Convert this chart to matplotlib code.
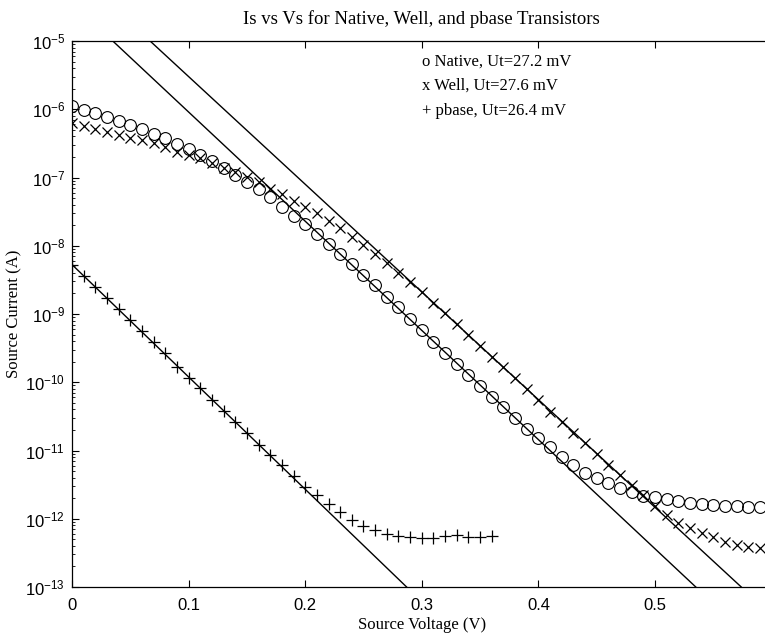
import numpy as np
import matplotlib
matplotlib.use('Agg')
import matplotlib.pyplot as plt
from matplotlib.ticker import LogLocator, NullFormatter, FixedLocator

# measured source voltage (V)
vs_full = np.round(np.arange(0, 60) * 0.01, 2)
vs_pbase = np.round(np.arange(0, 37) * 0.01, 2)

# Native transistor, source current (A)
is_native = [
    1.13e-6, 9.75e-7, 8.73e-7, 7.78e-7, 6.79e-7, 5.87e-7, 5.08e-7, 4.38e-7, 3.75e-7, 3.06e-7,
    2.59e-7, 2.14e-7, 1.75e-7, 1.36e-7, 1.09e-7, 8.68e-8, 6.71e-8, 5.13e-8, 3.73e-8, 2.73e-8,
    2.06e-8, 1.49e-8, 1.05e-8, 7.50e-9, 5.35e-9, 3.72e-9, 2.66e-9, 1.79e-9, 1.25e-9, 8.36e-10,
    5.83e-10, 3.93e-10, 2.71e-10, 1.85e-10, 1.28e-10, 8.81e-11, 6.14e-11, 4.30e-11, 2.96e-11, 2.07e-11,
    1.51e-11, 1.14e-11, 7.94e-12, 6.14e-12, 4.73e-12, 3.92e-12, 3.31e-12, 2.82e-12, 2.45e-12, 2.19e-12,
    2.06e-12, 1.93e-12, 1.82e-12, 1.72e-12, 1.64e-12, 1.59e-12, 1.55e-12, 1.54e-12, 1.50e-12, 1.50e-12]

# Well transistor
is_well = [
    6.22e-7, 5.68e-7, 5.14e-7, 4.60e-7, 4.20e-7, 3.83e-7, 3.54e-7, 3.17e-7, 2.77e-7, 2.39e-7,
    2.14e-7, 1.91e-7, 1.65e-7, 1.36e-7, 1.21e-7, 1.03e-7, 8.68e-8, 6.79e-8, 5.64e-8, 4.60e-8,
    3.73e-8, 2.99e-8, 2.31e-8, 1.80e-8, 1.36e-8, 1.03e-8, 7.57e-9, 5.53e-9, 3.95e-9, 2.91e-9,
    2.08e-9, 1.43e-9, 1.02e-9, 7.13e-10, 4.92e-10, 3.43e-10, 2.37e-10, 1.66e-10, 1.14e-10, 7.88e-11,
    5.50e-11, 3.70e-11, 2.62e-11, 1.79e-11, 1.28e-11, 8.89e-12, 6.14e-12, 4.38e-12, 3.13e-12, 2.23e-12,
    1.54e-12, 1.14e-12, 8.75e-13, 7.24e-13, 6.12e-13, 5.35e-13, 4.61e-13, 4.12e-13, 3.90e-13, 3.69e-13]

# pbase transistor
is_pbase = [
    5.22e-9, 3.61e-9, 2.51e-9, 1.73e-9, 1.18e-9, 8.16e-10, 5.64e-10, 3.93e-10, 2.65e-10, 1.69e-10,
    1.17e-10, 8.15e-11, 5.50e-11, 3.79e-11, 2.59e-11, 1.79e-11, 1.22e-11, 8.59e-12, 6.14e-12, 4.23e-12,
    2.95e-12, 2.23e-12, 1.64e-12, 1.27e-12, 9.59e-13, 7.83e-13, 6.84e-13, 5.92e-13, 5.65e-13, 5.35e-13,
    5.27e-13, 5.27e-13, 5.58e-13, 5.71e-13, 5.35e-13, 5.46e-13, 5.65e-13]

# exponential fits (end points of the straight lines on the log plot)
fit_native_v = [0.035, 0.535]
fit_native_i = [1e-5, 1e-13]
fit_well_v = [0.067, 0.574]
fit_well_i = [1e-5, 1e-13]
fit_pbase_v = [0.0, 0.287]
fit_pbase_i = [5.3e-9, 1e-13]

legend_lines = ['o Native, Ut=27.2 mV', 'x Well, Ut=27.6 mV', '+ pbase, Ut=26.4 mV']

serif = 'Liberation Serif'
sans = 'Liberation Sans'
plt.rcParams['font.family'] = sans
plt.rcParams['mathtext.fontset'] = 'custom'
plt.rcParams['mathtext.rm'] = sans

fig = plt.figure(figsize=(7.65, 6.37), dpi=100, facecolor='w')
ax = fig.add_axes([0.0941, 0.0785, 0.9145, 0.8571])

ax.plot(vs_full, is_native, 'o', markersize=8.5, markerfacecolor='none',
        markeredgecolor='k', markeredgewidth=0.8)
ax.plot(vs_full, is_well, 'x', markersize=7.5, color='k', markeredgewidth=0.9)
ax.plot(vs_pbase, is_pbase, '+', markersize=8, color='k', markeredgewidth=0.9)

ax.plot(fit_native_v, fit_native_i, 'k-', linewidth=1.0)
ax.plot(fit_well_v, fit_well_i, 'k-', linewidth=1.0)
ax.plot(fit_pbase_v, fit_pbase_i, 'k-', linewidth=1.0)

ax.set_yscale('log')
ax.set_xlim(0, 0.6)
ax.set_ylim(1e-13, 1e-5)
ax.xaxis.set_major_locator(FixedLocator([0, 0.1, 0.2, 0.3, 0.4, 0.5]))
ax.set_xticklabels(['0', '0.1', '0.2', '0.3', '0.4', '0.5'])
ax.yaxis.set_major_locator(LogLocator(base=10, numticks=20))
ax.yaxis.set_minor_locator(LogLocator(base=10, subs=np.arange(2, 10), numticks=20))
ax.yaxis.set_minor_formatter(NullFormatter())

ax.tick_params(which='both', direction='in', top=True, right=True, labelsize=12)
ax.tick_params(axis='x', pad=8)
ax.tick_params(axis='y', pad=5)
ax.tick_params(which='major', length=5, width=0.8)
ax.tick_params(which='minor', length=2.5, width=0.6)
for s in ax.spines.values():
    s.set_linewidth(0.9)

ax.set_title('Is vs Vs for Native, Well, and pbase Transistors', family=serif,
             fontsize=13.5, pad=12)
ax.set_xlabel('Source Voltage (V)', family=serif, fontsize=12, labelpad=3)
ax.set_ylabel('Source Current (A)', family=serif, fontsize=12, labelpad=2)

# text block in the upper right, as in the original figure
for k, txt in enumerate(legend_lines):
    ax.text(0.501, 0.963 - k * 0.0455, txt, transform=ax.transAxes,
            family=serif, fontsize=12, ha='left', va='center')

fig.savefig('out.png', dpi=100, facecolor='w')
